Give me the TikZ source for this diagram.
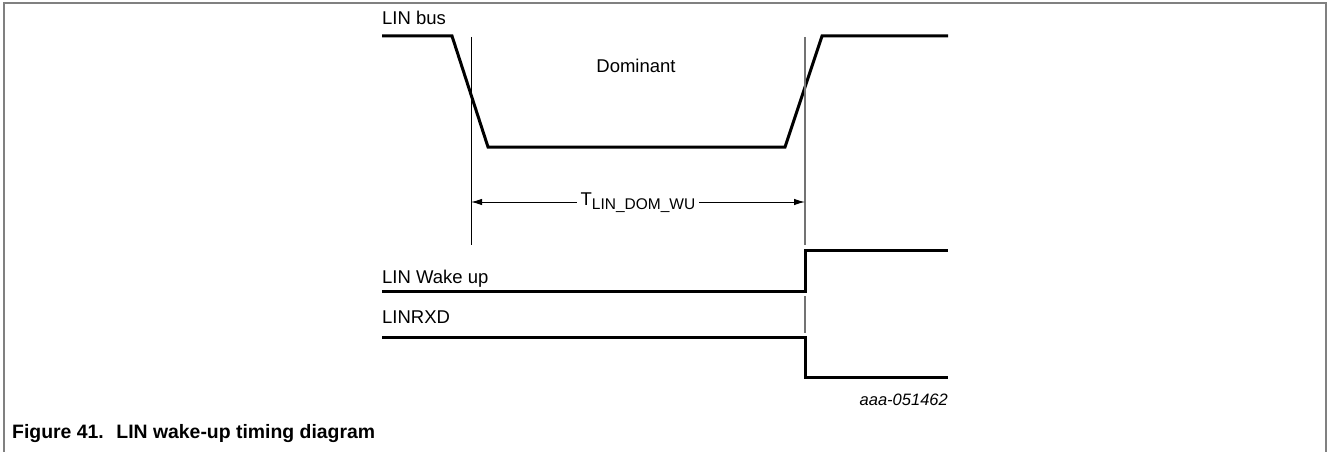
\documentclass[tikz,border=0pt]{standalone}
\usepackage{fontspec}
\setmainfont{Liberation Sans}
\usetikzlibrary{arrows.meta}
\tikzset{
  wave/.style={line width=3pt, line join=miter},
  guide/.style={line width=1pt, black},
  guidegray/.style={line width=1.3pt, black!55},
  lbl/.style={font=\fontsize{18.5}{22}\selectfont, inner sep=0pt},
  frame/.style={line width=1.6pt, black!50},
  dim/.style={line width=1pt, {Latex[length=11pt,width=6.5pt]}-{Latex[length=11pt,width=6.5pt]}}
}
\begin{document}
\begin{tikzpicture}[x=1pt,y=-1pt]
\useasboundingbox (0,0) rectangle (1328,452);
% frame
\draw[frame] (4,452) -- (4,3) -- (1326,3) -- (1326,452);
% labels
\node[lbl, anchor=base west] (busl) at (382,25) {LIN bus};
\node[lbl, anchor=base] (dom) at (636,73) {Dominant};
\node[lbl, anchor=base west] (wakel) at (382,283) {LIN Wake up};
\node[lbl, anchor=base west] (rxdl) at (382,323) {LINRXD};
\node[lbl, anchor=base east, font=\fontsize{16.5}{20}\selectfont\itshape] (code) at (948,405) {aaa-051462};
\node[lbl, anchor=base west, font=\fontsize{19.4}{23}\selectfont\bfseries] (cap) at (12,438) {Figure 41.\hspace{0.278em} LIN wake-up timing diagram};
% LIN bus waveform
\draw[wave] (382,36) -- (452,36) -- (488,147) -- (785,147) -- (822,36) -- (948,36);
% guides
\coordinate (g1t) at (471,37);
\coordinate (g1b) at (471,245);
\coordinate (g2t) at (805,37);
\coordinate (g2b) at (805,245);
\draw[guide] (g1t) -- (g1b);
\draw[guidegray] (g2t) -- (g2b);
\coordinate (g3t) at (805,296);
\coordinate (g3b) at (805,333);
\draw[guidegray] (g3t) -- (g3b);
% dimension
\coordinate (a1) at (471,202);
\coordinate (a2) at (805,202);
\draw[dim] (a1) -- (a2);
\node[fill=white, inner xsep=4pt, inner ysep=2pt, font=\fontsize{18.5}{22}\selectfont] (tdom) at (638,203) {T\raisebox{-4pt}{\fontsize{15.5}{17}\selectfont LIN\_DOM\_WU}};
% LIN wake up
\draw[wave] (382,291) -- (805,291) -- (805,250) -- (948,250);
% LINRXD
\draw[wave] (382,337) -- (805,337) -- (805,377) -- (948,377);
\end{tikzpicture}
\end{document}
